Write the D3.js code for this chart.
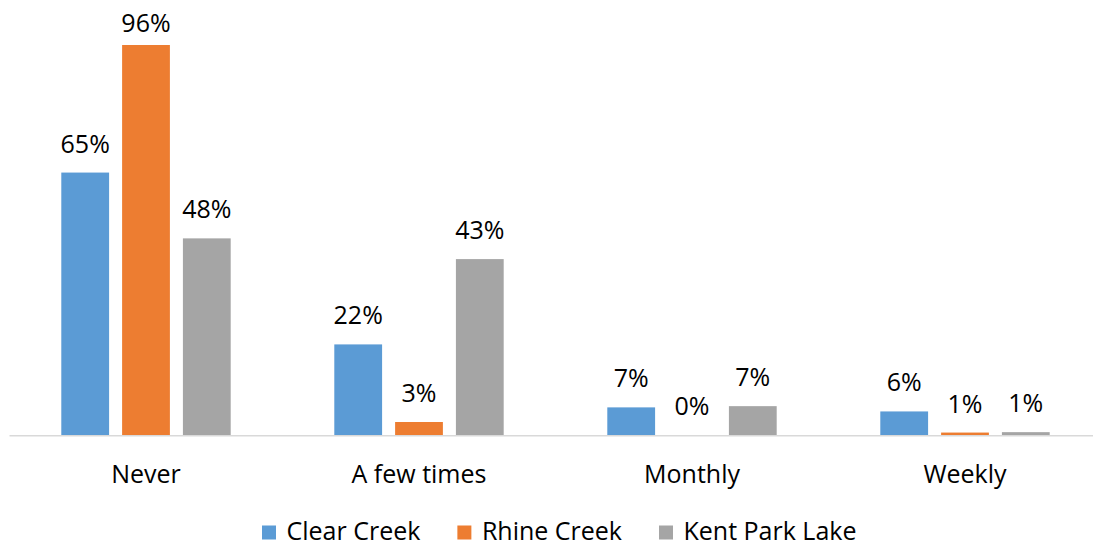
<!DOCTYPE html>
<html>
<head>
<meta charset="utf-8">
<script src="https://cdn.jsdelivr.net/npm/d3@7"></script>
<style>
  html, body { margin: 0; padding: 0; background: #fff; }
  svg { display: block; }
  text { font-family: "Open Sans", sans-serif; fill: #000; }
</style>
</head>
<body>
<script>
// Data
const categories = ["Never", "A few times", "Monthly", "Weekly"];
const seriesNames = ["Clear Creek", "Rhine Creek", "Kent Park Lake"];
const clearCreek = [64.6, 22.3, 6.8, 5.8];
const rhineCreek = [96.0, 3.2, 0.0, 0.6];
const kentParkLake = [48.4, 43.3, 7.1, 0.7];
const seriesColors = ["#5b9bd5", "#ed7d31", "#a5a5a5"];

const seriesValues = [clearCreek, rhineCreek, kentParkLake];

const W = 1093, H = 546;
const svg = d3.select("body").append("svg").attr("width", W).attr("height", H);

const x0 = d3.scaleBand().domain(categories).range([9.5, 1101.5]).paddingInner(0).paddingOuter(0);
const x1 = d3.scaleBand().domain(seriesNames).range([51.8, 221.2]).paddingInner(0.214).paddingOuter(0);
const y = d3.scaleLinear().domain([0, 100]).range([435, 28.75]);

const fmt = d3.format(".0%");

const groups = svg.selectAll("g.cat").data(categories).enter().append("g")
  .attr("class", "cat")
  .attr("transform", d => `translate(${x0(d)},0)`);

groups.each(function(cat, ci) {
  const g = d3.select(this);
  seriesNames.forEach((s, si) => {
    const v = seriesValues[si][ci];
    g.append("rect")
      .attr("x", x1(s))
      .attr("y", y(v))
      .attr("width", x1.bandwidth())
      .attr("height", y(0) - y(v))
      .attr("fill", seriesColors[si]);
    g.append("text")
      .attr("x", x1(s) + x1.bandwidth() / 2)
      .attr("y", Math.max(y(v) - 20, 32))
      .attr("text-anchor", "middle")
      .style("font-size", "25px")
      .text(fmt(v / 100));
  });
});

// Axis baseline
svg.append("line")
  .attr("x1", x0.range()[0]).attr("x2", x0.range()[1])
  .attr("y1", y(0) + 0.75).attr("y2", y(0) + 0.75)
  .attr("stroke", "#d9d9d9").attr("stroke-width", 1.5);

// Category labels
const xAxis = d3.axisBottom(x0).tickSize(0).tickPadding(0);
const ax = svg.append("g").attr("transform", `translate(0,${y(0)})`).call(xAxis);
ax.select(".domain").remove();
ax.selectAll("text")
  .attr("dy", null)
  .attr("y", 48)
  .style("font-size", "25px")
  .style("font-family", "'Open Sans', sans-serif")
  .attr("fill", "#000");

// Legend
const legend = svg.append("g");
let lx = 262;
seriesNames.forEach((s, i) => {
  legend.append("rect")
    .attr("x", lx).attr("y", 525.5)
    .attr("width", 14).attr("height", 14)
    .attr("fill", seriesColors[i]);
  const t = legend.append("text")
    .attr("x", lx + 24.5).attr("y", 540)
    .style("font-size", "25px")
    .text(s);
  const w = t.node().getComputedTextLength();
  lx = lx + 24.5 + w + 37;
});
</script>
</body>
</html>
